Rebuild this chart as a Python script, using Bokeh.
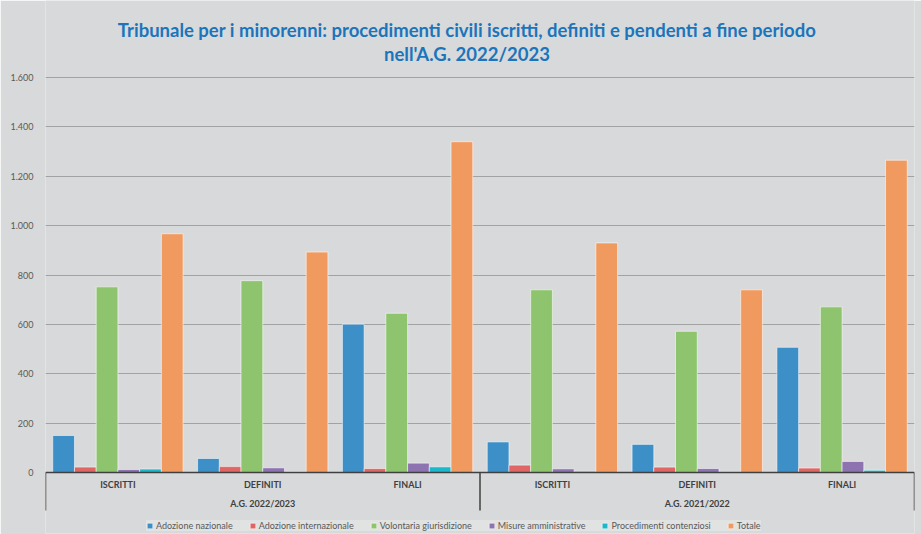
from bokeh.plotting import figure
from bokeh.models import (FactorRange, Range1d, FixedTicker, Legend, LegendItem,
                          Span, ColumnDataSource)
from bokeh.transform import dodge
from bokeh.core.properties import value
from bokeh.embed import file_html
from bokeh.resources import INLINE

# ---------------- data ----------------
groups = ["A.G. 2022/2023", "A.G. 2021/2022"]
categories = ["ISCRITTI", "DEFINITI", "FINALI"]

series_names = ["Adozione nazionale", "Adozione internazionale", "Volontaria giurisdizione",
                "Misure amministrative", "Procedimenti contenziosi", "Totale"]
adozione_nazionale = [150, 57, 601, 124, 114, 507]
adozione_internazionale = [22, 24, 16, 30, 22, 18]
volontaria_giurisdizione = [752, 777, 645, 740, 572, 671]
misure_amministrative = [12, 19, 38, 15, 16, 45]
procedimenti_contenziosi = [14, 2, 23, 5, 3, 9]
totale = [967, 893, 1340, 930, 740, 1265]

tick_values = [0, 200, 400, 600, 800, 1000, 1200, 1400, 1600]
tick_labels = ["0", "200", "400", "600", "800", "1.000", "1.200", "1.400", "1.600"]

title_lines = ["Tribunale per i minorenni: procedimenti civili iscritti, definiti e pendenti a fine periodo",
               "nell'A.G. 2022/2023"]

# ---------------- style / layout ----------------
colors = ["#3d8fc7", "#e06666", "#8dc46d", "#8d73b0", "#1bb7ca", "#f19a5f"]
bg = "#d8d9da"
font = "Lato"
y_top = 1912
y_bottom = -247
y_sep = -154
y_cat = -49
y_grp = -126
y_title = [1794, 1697]

factors = [(g, c) for g in groups for c in categories]
all_series = [adozione_nazionale, adozione_internazionale, volontaria_giurisdizione,
              misure_amministrative, procedimenti_contenziosi, totale]

p = figure(x_range=FactorRange(*factors, factor_padding=0, group_padding=0, range_padding=0),
           y_range=Range1d(y_bottom, y_top),
           width=921, height=534, output_backend="svg", toolbar_location=None,
           min_border_left=45, min_border_right=7, min_border_top=0, min_border_bottom=1)

p.background_fill_color = bg
p.border_fill_color = bg
p.outline_line_color = None

p.xaxis.visible = False
p.xgrid.visible = False

p.yaxis.ticker = FixedTicker(ticks=tick_values)
p.yaxis.major_label_overrides = {v: l for v, l in zip(tick_values, tick_labels)}
p.yaxis.axis_line_color = None
p.yaxis.major_tick_line_color = None
p.yaxis.minor_tick_line_color = None
p.yaxis.major_label_text_font = font
p.yaxis.major_label_text_font_size = "9px"
p.yaxis.major_label_text_color = "#595959"
p.yaxis.major_label_standoff = 6

p.ygrid.ticker = FixedTicker(ticks=tick_values[1:])
p.ygrid.grid_line_color = "#8a8a8a"
p.ygrid.grid_line_alpha = 0.7
p.ygrid.grid_line_width = 1

width = 0.15
items = []
for i, (name, vals, col) in enumerate(zip(series_names, all_series, colors)):
    src = ColumnDataSource(dict(x=factors, top=vals))
    r = p.vbar(x=dodge("x", (i - (len(all_series) - 1) / 2) * width, range=p.x_range),
               top="top", bottom=0, width=width, source=src,
               fill_color=col, line_color="white", line_alpha=0.55, line_width=1)
    items.append(LegendItem(label=name, renderers=[r]))

# baseline and group separators
p.add_layout(Span(location=0, dimension="width", line_color="#404040", line_width=1.5))
left_src = ColumnDataSource(dict(x=[(g, categories[0]) for g in groups],
                                 y0=[0] * len(groups), y1=[y_sep] * len(groups)))
p.segment(x0=dodge("x", -0.5, range=p.x_range), x1=dodge("x", -0.5, range=p.x_range),
          y0="y0", y1="y1", source=left_src, line_color="#404040", line_width=1.5)
right_src = ColumnDataSource(dict(x=[(groups[-1], categories[-1])], y0=[0], y1=[y_sep]))
p.segment(x0=dodge("x", 0.5, range=p.x_range), x1=dodge("x", 0.5, range=p.x_range),
          y0="y0", y1="y1", source=right_src, line_color="#404040", line_width=1.5)

# category & group labels
cat_src = ColumnDataSource(dict(x=factors, y=[y_cat] * len(factors),
                                t=[c for g in groups for c in categories]))
p.text(x="x", y="y", text="t", source=cat_src,
       text_font=value(font), text_font_size="9px", text_font_style="bold",
       text_color="#404040", text_align="center", text_baseline="middle")
mid = len(categories) // 2
grp_off = 0.0 if len(categories) % 2 else -0.5
grp_src = ColumnDataSource(dict(x=[(g, categories[mid]) for g in groups],
                                y=[y_grp] * len(groups), t=groups))
p.text(x=dodge("x", grp_off, range=p.x_range), y="y", text="t", source=grp_src,
       text_font=value(font), text_font_size="9px", text_font_style="bold",
       text_color="#404040", text_align="center", text_baseline="middle")

# title (two lines) centred on the middle of the category range
title_src = ColumnDataSource(dict(x=[(groups[len(groups) // 2], categories[0])] * len(title_lines),
                                  y=y_title, t=title_lines))
p.text(x=dodge("x", -0.5, range=p.x_range), y="y", text="t", source=title_src,
       x_offset=-13, text_font=value(font), text_font_size="18.5px", text_font_style="bold",
       text_color="#1b75bc", text_align="center", text_baseline="middle")

legend = Legend(items=items, orientation="horizontal", location=(101, 2),
                label_text_font=font, label_text_font_size="9px", label_text_color="#595959",
                glyph_width=7, glyph_height=7, label_standoff=3, spacing=16,
                padding=4, margin=0, background_fill_color="#e2e2e2",
                background_fill_alpha=0.9, border_line_color=None)
p.add_layout(legend)

open("out.html", "w").write(file_html(p, INLINE))
